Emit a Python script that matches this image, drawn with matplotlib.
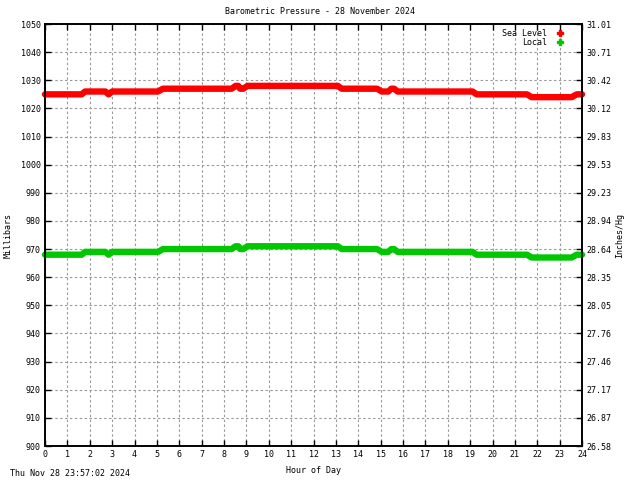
import matplotlib
matplotlib.use('Agg')
import matplotlib.pyplot as plt
from matplotlib.lines import Line2D

# data (hour of day, millibars)
hours = [0, 1.64, 1.79, 2.70, 2.84, 3.00, 5.05, 5.27, 8.34, 8.52, 8.64, 8.72, 8.86, 9.05,
         13.09, 13.26, 14.84, 15.05, 15.34, 15.48, 15.60, 15.76, 19.11, 19.29,
         21.54, 21.75, 23.54, 23.76, 24.0]
sea_level = [1025, 1025, 1026, 1026, 1025, 1026, 1026, 1027, 1027, 1028, 1028, 1027, 1027, 1028,
             1028, 1027, 1027, 1026, 1026, 1027, 1027, 1026, 1026, 1025,
             1025, 1024, 1024, 1025, 1025]
local = [968, 968, 969, 969, 968, 969, 969, 970, 970, 971, 971, 970, 970, 971,
         971, 970, 970, 969, 969, 970, 970, 969, 969, 968,
         968, 967, 967, 968, 968]

mb_ticks = list(range(900, 1051, 10))
hour_ticks = list(range(0, 25))
MB_TO_INHG = 0.02953

font = 'DejaVu Sans Mono'
fs = 6
plt.rcParams['font.family'] = font
plt.rcParams['font.size'] = fs

fig = plt.figure(figsize=(6.4, 4.8), dpi=100)
ax = fig.add_axes([45/640, 1 - 446/480, 537/640, 422/480])

# Step 1: grid
ax.set_xlim(0, 24)
ax.set_ylim(900, 1050)
ax.set_xticks(hour_ticks)
ax.set_yticks(mb_ticks)
ax.grid(True, color='#999999', linestyle=(0, (2.2, 2.2)), linewidth=0.8)
ax.set_axisbelow(True)

# Step 2: pressure lines
ax.plot(hours, sea_level, color='#ff0000', lw=4.6, solid_capstyle='round',
        solid_joinstyle='round', clip_on=False, zorder=3)
ax.plot(hours, local, color='#00c800', lw=4.6, solid_capstyle='round',
        solid_joinstyle='round', clip_on=False, zorder=3)

# Step 3: axes styling
for s in ax.spines.values():
    s.set_linewidth(1.2)
ax.tick_params(direction='in', length=4, width=1, top=True, right=False,
               labelsize=fs, pad=3)
ax.set_xlabel('Hour of Day', fontsize=fs, labelpad=5)

ax2 = ax.twinx()
ax2.set_ylim(900, 1050)
ax2.set_yticks(mb_ticks)
ax2.set_yticklabels(['%.2f' % (v * MB_TO_INHG) for v in mb_ticks])
ax2.tick_params(direction='in', length=4, width=1, labelsize=fs, pad=3)
for s in ax2.spines.values():
    s.set_linewidth(1.2)

fig.text(8/640, 1 - 235/480, 'Millibars', rotation=90, ha='center', va='center', fontsize=fs)
fig.text(620/640, 1 - 235/480, 'Inches/Hg', rotation=90, ha='center', va='center', fontsize=fs)

# Step 4: legend
handles = [Line2D([], [], color='#ff0000', marker='P', ls='none', markersize=4),
           Line2D([], [], color='#00c800', marker='P', ls='none', markersize=4)]
ax.legend(handles, ['Sea Level', 'Local'], loc='upper right', frameon=False,
          markerfirst=False, fontsize=fs, handlelength=1.5, handletextpad=0.8,
          labelspacing=-0.05, borderaxespad=0.2, bbox_to_anchor=(0.98, 1.0))

# Step 5: title and timestamp
fig.text(0.5, 1 - 12/480, 'Barometric Pressure - 28 November 2024', ha='center',
         va='center', fontsize=fs)
fig.text(10/640, 1 - 474/480, 'Thu Nov 28 23:57:02 2024', ha='left', va='center',
         fontsize=fs)

plt.savefig('out.png', dpi=100)
